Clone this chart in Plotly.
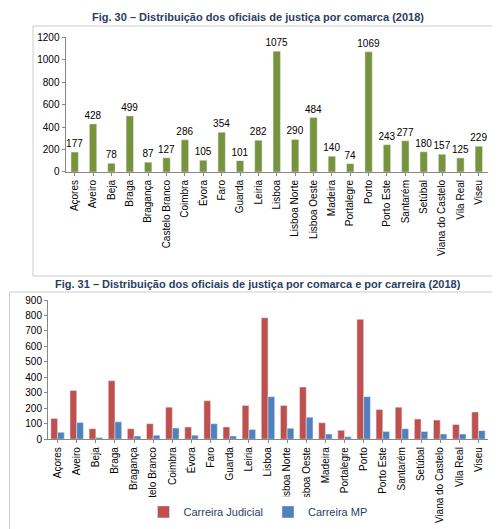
import plotly.graph_objects as go

comarcas = ["Açores","Aveiro","Beja","Braga","Bragança","Castelo Branco","Coimbra","Évora","Faro","Guarda","Leiria","Lisboa","Lisboa Norte","Lisboa Oeste","Madeira","Portalegre","Porto","Porto Este","Santarém","Setúbal","Viana do Castelo","Vila Real","Viseu"]
total = [177,428,78,499,87,127,286,105,354,101,282,1075,290,484,140,74,1069,243,277,180,157,125,229]
judicial = [133,315,68,378,67,100,207,78,248,79,218,785,218,337,106,57,775,192,207,130,123,95,175]
mp = [44,107,10,112,20,25,72,25,100,20,62,275,70,142,33,15,275,50,67,50,33,33,55]

fig = go.Figure()
fig.add_trace(go.Bar(x=comarcas, y=total, marker_color="#77933C", text=total, textposition="outside",
                     textfont=dict(size=10, color="#000"), constraintext="none", cliponaxis=False, showlegend=False, width=0.4,
                     xaxis="x", yaxis="y"))
fig.add_trace(go.Bar(x=comarcas, y=judicial, name="Carreira Judicial", marker_color="#C0504D", xaxis="x2", yaxis="y2"))
fig.add_trace(go.Bar(x=comarcas, y=mp, name="Carreira MP", marker_color="#4F81BD", xaxis="x2", yaxis="y2"))

ax = dict(showline=True, linecolor="#888", tickangle=-90, tickfont=dict(size=10, color="#000"), ticks="outside", ticklen=3, tickcolor="#888")
ay = dict(showline=True, linecolor="#888", showgrid=False, tickfont=dict(size=10, color="#000"), ticks="outside", ticklen=3, tickcolor="#888", zeroline=False)
fig.update_layout(
    width=500, height=529, margin=dict(l=0, r=0, t=0, b=0, autoexpand=False),
    paper_bgcolor="white", plot_bgcolor="white", font=dict(family="Liberation Sans"),
    barmode="group", bargap=0.3, bargroupgap=0,
    xaxis=dict(ax, domain=[0.115, 0.96], anchor="y", automargin=False),
    yaxis=dict(ay, domain=[0.69, 0.945], range=[0, 1200], dtick=200, anchor="x", automargin=False),
    xaxis2=dict(ax, domain=[0.08, 0.96], anchor="y2", automargin=False),
    yaxis2=dict(ay, domain=[0.185, 0.448], range=[0, 900], dtick=100, anchor="x2", automargin=False),
    legend=dict(orientation="h", x=0.5, xanchor="center", y=0.02, yanchor="bottom", font=dict(size=11)),
    annotations=[
        dict(text="<b>Fig. 30 – Distribuição dos oficiais de justiça por comarca (2018)</b>", x=0.5, y=1-9/529, xref="paper", yref="paper", showarrow=False, font=dict(size=11), yanchor="middle"),
        dict(text="<b>Fig. 31 – Distribuição dos oficiais de justiça por comarca e por carreira (2018)</b>", x=0.5, y=1-276/529, xref="paper", yref="paper", showarrow=False, font=dict(size=11), yanchor="middle"),
    ],
    shapes=[
        dict(type="rect", xref="paper", yref="paper", x0=0.05, x1=0.995, y0=1-268/529, y1=1-18/529, line=dict(color="#ccc", width=1)),
        dict(type="rect", xref="paper", yref="paper", x0=0.003, x1=0.995, y0=0.003, y1=1-284/529, line=dict(color="#ccc", width=1)),
    ],
)
fig.write_html("out.html")
